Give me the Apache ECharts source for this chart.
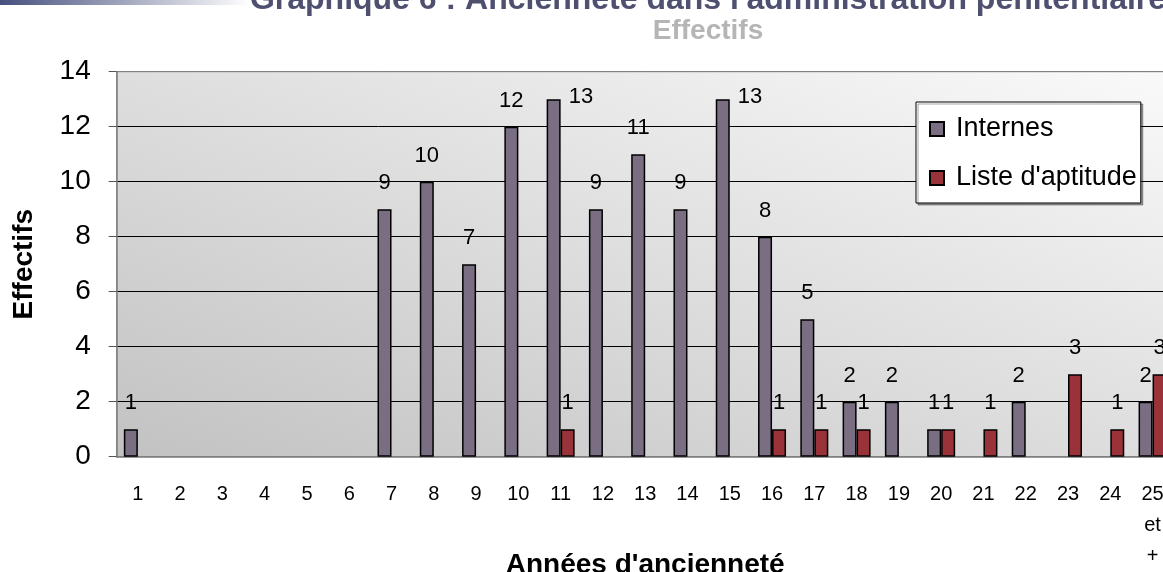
<!DOCTYPE html>
<html>
<head>
<meta charset="utf-8">
<script src="https://cdn.jsdelivr.net/npm/echarts@6/dist/echarts.min.js"></script>
<style>
html, body { margin: 0; padding: 0; background: #fff; }
#main { width: 1163px; height: 572px; }
</style>
</head>
<body>
<div id="main"></div>
<script>
// années d'ancienneté
const annees = ['1', '2', '3', '4', '5', '6', '7', '8', '9', '10', '11', '12', '13', '14', '15', '16', '17', '18', '19', '20', '21', '22', '23', '24', '25\net\n+'];
// effectifs (null = pas de barre)
const internes = [1, null, null, null, null, null, 9, 10, 7, 12, 13, 9, 11, 9, 13, 8, 5, 2, 2, 1, null, 2, null, null, 2];
const listeAptitude = [null, null, null, null, null, null, null, null, null, null, 1, null, null, null, null, 1, 1, 1, null, 1, 1, null, 3, 1, 3];
// étiquettes "Internes" décalées à droite de la barre (comme dans l'original)
const etiquettesADroite = ['11', '15'];

const font = 'Liberation Sans, Arial, sans-serif';

let myChart = echarts.init(document.getElementById('main'));

function donnees(valeurs, decaler) {
  return valeurs.map((v, i) => {
    if (decaler && etiquettesADroite.indexOf(annees[i]) >= 0 && v !== null) {
      return {
        value: v,
        label: { position: ['100%', 0], align: 'left', verticalAlign: 'middle', offset: [8, -2] }
      };
    }
    return v;
  });
}

let labelBarre = {
  show: true,
  position: 'top',
  distance: 15,
  fontFamily: font,
  fontSize: 22,
  color: '#000'
};

let option = {
  animation: false,
  backgroundColor: '#fff',
  graphic: [
    {
      type: 'rect',
      left: 0, top: 0,
      shape: { width: 250, height: 5 },
      style: {
        fill: new echarts.graphic.LinearGradient(0, 0, 1, 0, [
          { offset: 0, color: '#46507e' },
          { offset: 1, color: '#ffffff' }
        ])
      }
    },
    {
      type: 'text',
      x: 708, y: 16,
      style: {
        text: "Graphique 6 : Ancienneté dans l'administration pénitentiaire",
        font: 'bold 32px ' + font,
        fill: '#4f5070',
        textAlign: 'center',
        textVerticalAlign: 'bottom'
      }
    },
    {
      type: 'text',
      x: 708, y: 31,
      style: {
        text: 'Effectifs',
        font: 'bold 28px ' + font,
        fill: '#b5b5b5',
        textAlign: 'center',
        textVerticalAlign: 'middle'
      }
    }
  ],
  legend: {
    orient: 'vertical',
    left: 916, top: 102,
    padding: [13, 4, 11, 13],
    itemGap: 21,
    itemWidth: 14, itemHeight: 14,
    icon: 'rect',
    backgroundColor: '#fff',
    borderColor: '#000',
    borderWidth: 1,
    shadowColor: 'rgba(0,0,0,0.35)',
    shadowOffsetX: 2, shadowOffsetY: 2,
    textStyle: { fontFamily: font, fontSize: 27, lineHeight: 28, color: '#000', padding: [0, 0, 0, 7] }
  },
  grid: {
    left: 116.7, top: 71.7, width: 1057, height: 385,
    outerBoundsMode: 'none',
    containLabel: false,
    show: true,
    borderColor: '#808080',
    borderWidth: 1,
    backgroundColor: new echarts.graphic.LinearGradient(0, 1, 0.234, -0.766, [
      { offset: 0, color: '#c2c2c2' },
      { offset: 1, color: '#fafafa' }
    ])
  },
  xAxis: {
    type: 'category',
    data: annees,
    name: "Années d'ancienneté",
    nameLocation: 'middle',
    nameGap: 95,
    nameMoveOverlap: false,
    nameTextStyle: { fontFamily: font, fontSize: 28, fontWeight: 'bold', color: '#000' },
    axisLine: { lineStyle: { color: '#808080', width: 1.5 } },
    axisTick: { length: 8, lineStyle: { color: '#555' } },
    axisLabel: { interval: 0, margin: 22, fontFamily: font, fontSize: 20, lineHeight: 31, color: '#000' }
  },
  yAxis: {
    type: 'value',
    min: 0, max: 14, interval: 2,
    name: 'Effectifs',
    nameLocation: 'middle',
    nameGap: 78,
    nameMoveOverlap: false,
    nameTextStyle: { fontFamily: font, fontSize: 28, fontWeight: 'bold', color: '#000' },
    axisLine: { show: true, lineStyle: { color: '#808080', width: 1.5 } },
    axisTick: { show: true, length: 8, lineStyle: { color: '#555' } },
    axisLabel: { margin: 26, fontFamily: font, fontSize: 28, color: '#000' },
    splitLine: {
      lineStyle: {
        color: ['#808080', '#000', '#000', '#000', '#000', '#000', '#000', '#808080'],
        width: 1
      }
    }
  },
  series: [
    {
      name: 'Internes',
      type: 'bar',
      barWidth: 14,
      barGap: '0%',
      data: donnees(internes, true),
      itemStyle: { color: '#7a6e82', borderColor: '#000', borderWidth: 1.5 },
      label: labelBarre
    },
    {
      name: "Liste d'aptitude",
      type: 'bar',
      barWidth: 14,
      barGap: '0%',
      data: donnees(listeAptitude, false),
      itemStyle: { color: '#993339', borderColor: '#000', borderWidth: 1.5 },
      label: labelBarre
    }
  ]
};

myChart.setOption(option);
</script>
</body>
</html>
